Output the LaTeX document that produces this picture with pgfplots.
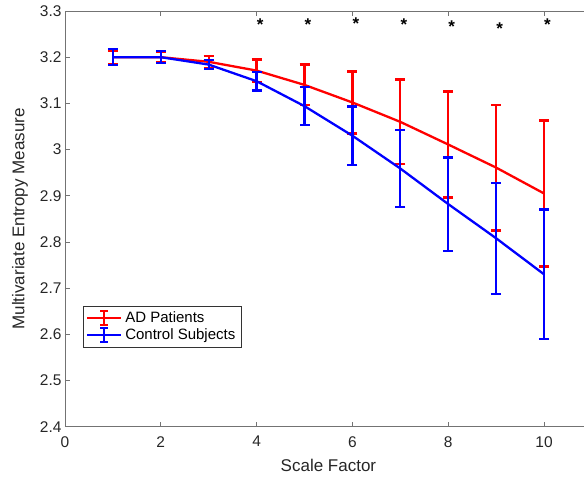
\documentclass[border=0pt]{standalone}
\usepackage{pgfplots}
\pgfplotsset{compat=1.18}
\usepackage{fontspec}
\setmainfont{Liberation Sans}

\pgfplotstableread{
x y e
1 3.200 0.014
2 3.200 0.011
3 3.190 0.013
4 3.171 0.024
5 3.140 0.044
6 3.102 0.067
7 3.060 0.092
8 3.011 0.115
9 2.961 0.136
10 2.905 0.158
}\ad
\pgfplotstableread{
x y e
1 3.200 0.017
2 3.200 0.013
3 3.184 0.010
4 3.148 0.020
5 3.094 0.041
6 3.030 0.063
7 2.959 0.083
8 2.882 0.101
9 2.808 0.120
10 2.730 0.140
}\ctrl
\pgfplotstableread{
x y
4 3.2574
5 3.2574
6 3.2604
7 3.2574
8 3.2539
9 3.2502
10 3.2574
}\stars

\begin{document}
\begin{tikzpicture}
\begin{axis}[
  scale only axis, width=526.9pt, height=415.7pt,
  xmin=0, xmax=11, ymin=2.4, ymax=3.3,
  xtick={0,2,4,6,8,10},
  ytick={2.4,2.5,2.6,2.7,2.8,2.9,3,3.1,3.2,3.3},
  tick align=inside, major tick length=5pt,
  axis line style={black!55, line width=0.7pt},
  tick style={black!55, line width=0.7pt},
  ticklabel style={font=\fontsize{15.5}{18}\selectfont, text=black!85},
  xticklabel style={yshift=-6pt},
  /pgf/number format/assume math mode=true,
  xlabel={Scale Factor}, ylabel={Multivariate Entropy Measure},
  every axis x label/.style={at={(rel axis cs:0.5,0)}, yshift=-39pt, anchor=center, font=\fontsize{17}{20}\selectfont, text=black!85},
  every axis y label/.style={at={(rel axis cs:0,0.5)}, xshift=-45pt, rotate=90, anchor=center, font=\fontsize{17}{20}\selectfont, text=black!85},
  legend style={at={(axis description cs:0.0336,0.2903)}, anchor=north west, draw=black!80, line width=0.6pt, fill=white,
    font=\fontsize{15}{17}\selectfont, inner xsep=3pt, inner ysep=3.5pt, row sep=0pt,
    nodes={inner xsep=3pt, inner ysep=2.2pt}},
  legend cell align=left,
]
\addplot[red, line width=2.3pt, mark=none,
  legend image code/.code={
    \draw[red, line width=2.3pt] (0pt,0pt) -- (34pt,0pt);
    \draw[red, line width=2.3pt] (17pt,-7pt) -- (17pt,7pt);
    \draw[red, line width=2.3pt] (13pt,-7pt) -- (21pt,-7pt);
    \draw[red, line width=2.3pt] (13pt,7pt) -- (21pt,7pt);},
  error bars/y dir=both, error bars/y explicit,
  error bars/error bar style={red, line width=2.3pt, solid},
  error bars/error mark options={rotate=90, mark size=5pt, line width=2.3pt, red}]
  table[x=x, y=y, y error=e]{\ad};
\addlegendentry{AD Patients}
\addplot[blue, line width=2.3pt, mark=none,
  legend image code/.code={
    \draw[blue, line width=2.3pt] (0pt,0pt) -- (34pt,0pt);
    \draw[blue, line width=2.3pt] (17pt,-7pt) -- (17pt,7pt);
    \draw[blue, line width=2.3pt] (13pt,-7pt) -- (21pt,-7pt);
    \draw[blue, line width=2.3pt] (13pt,7pt) -- (21pt,7pt);},
  error bars/y dir=both, error bars/y explicit,
  error bars/error bar style={blue, line width=2.3pt, solid},
  error bars/error mark options={rotate=90, mark size=5pt, line width=2.3pt, blue}]
  table[x=x, y=y, y error=e]{\ctrl};
\addlegendentry{Control Subjects}
\addplot[draw=none, mark=none, forget plot,
  nodes near coords={\bfseries *},
  every node near coord/.append style={anchor=base west, inner sep=0pt, font=\fontsize{17}{20}\selectfont, text=black}]
  table[x=x, y=y]{\stars};
\end{axis}
\pgfresetboundingbox
\path[use as bounding box] ([xshift=-65pt,yshift=-53pt]current axis.south west) rectangle ([xshift=519pt,yshift=426.7pt]current axis.south west);
\end{tikzpicture}
\end{document}
